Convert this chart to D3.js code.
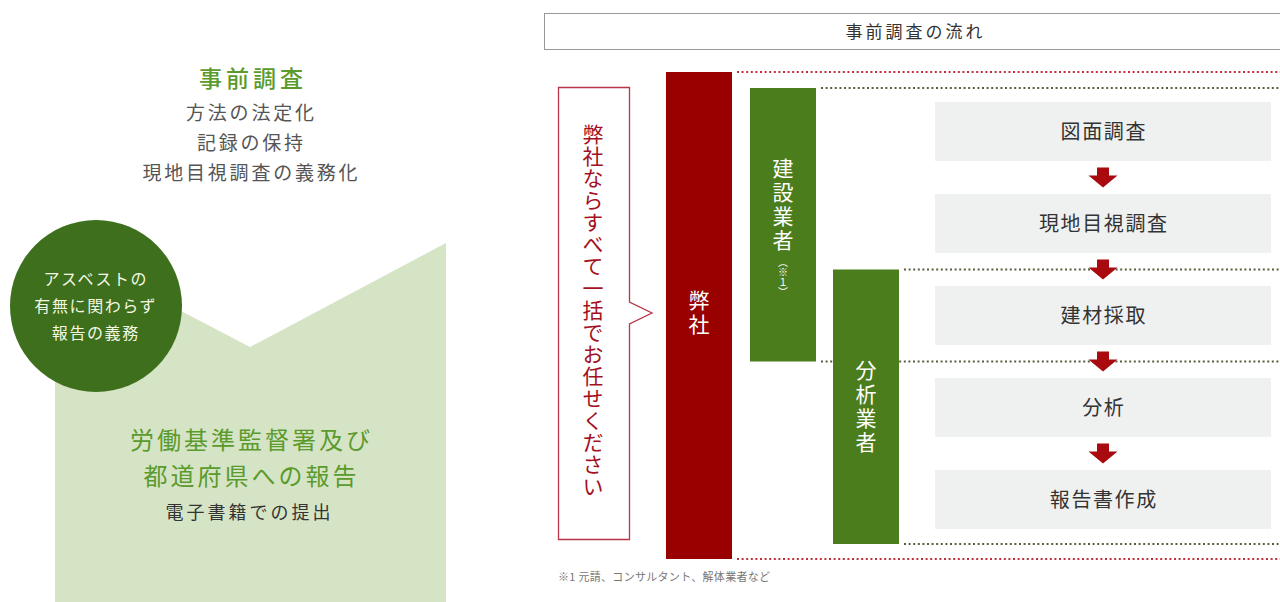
<!DOCTYPE html>
<html>
<head>
<meta charset="utf-8">
<script src="https://cdn.jsdelivr.net/npm/d3@7"></script>
<style>
  html, body { margin: 0; padding: 0; background: #fff; }
  svg { display: block; font-family: "Noto Sans CJK JP", "Noto Sans", sans-serif; }
  .vert { writing-mode: vertical-rl; text-orientation: mixed; }
</style>
</head>
<body>
<div id="chart"></div>
<script>
// left panel texts
const leftTitle = "事前調査"
const leftItems = ["方法の法定化", "記録の保持", "現地目視調査の義務化"]
const circleLines = ["アスベストの", "有無に関わらず", "報告の義務"]
const reportLines = ["労働基準監督署及び", "都道府県への報告"]
const reportSub = "電子書籍での提出"

// right panel: flow
const flowTitle = "事前調査の流れ"
const steps = ["図面調査", "現地目視調査", "建材採取", "分析", "報告書作成"]
const bubbleText = "弊社ならすべて一括でお任せください"
// actors: which steps each one covers (first / last index)
const actors = [
  { name: "弊社", first: 0, last: 4, kind: "main" },
  { name: "建設業者", note: "（※１）", first: 0, last: 2, kind: "sub" },
  { name: "分析業者", first: 2, last: 4, kind: "sub" }
]
const footnote = "※1 元請、コンサルタント、解体業者など"

const W = 1280, H = 602
const svg = d3.select("#chart").append("svg").attr("width", W).attr("height", H)

const green = "#5b9a2c", darkGreen = "#3e6f1c", paleGreen = "#d6e4c6"
const red = "#990000", barGreen = "#4b7d1d"

// centred text with letter spacing (shift by half the trailing space)
function centred(sel, cx, ls) {
  return sel.attr("x", cx + ls / 2).attr("text-anchor", "middle").attr("letter-spacing", ls)
}

// ---------- left panel ----------
const left = svg.append("g")
left.append("path")
  .attr("d", "M55,245 L250,347 L446,243 L446,610 L55,610 Z")
  .attr("fill", paleGreen)

centred(left.append("text"), 251, 4).attr("y", 87)
  .attr("font-size", 23).attr("fill", green).attr("font-weight", 500).text(leftTitle)

centred(left.selectAll(".item").data(leftItems).join("text").attr("class", "item"), 250, 2.8)
  .attr("y", (d, i) => 120 + i * 30)
  .attr("font-size", 19).attr("fill", "#555")
  .text(d => d)

left.append("circle").attr("cx", 96).attr("cy", 306).attr("r", 86).attr("fill", darkGreen)
centred(left.selectAll(".circ").data(circleLines).join("text").attr("class", "circ"), 95, 1.6)
  .attr("y", (d, i) => 285 + i * 27)
  .attr("font-size", 16).attr("fill", "#f4f8e4")
  .text(d => d)

centred(left.selectAll(".rep").data(reportLines).join("text").attr("class", "rep"), 250, 3)
  .attr("y", (d, i) => 449 + i * 36)
  .attr("font-size", 24).attr("fill", green)
  .text(d => d)
centred(left.append("text"), 248, 3).attr("y", 519)
  .attr("font-size", 18).attr("fill", "#333").text(reportSub)

// ---------- right panel ----------
const right = svg.append("g")
right.append("rect").attr("x", 544.5).attr("y", 13.5).attr("width", 760).attr("height", 36)
  .attr("fill", "#fff").attr("stroke", "#999")
centred(right.append("text"), 914, 3).attr("y", 38)
  .attr("font-size", 17).attr("fill", "#333").text(flowTitle)

const y = d3.scaleBand().domain(steps).range([102, 529]).paddingInner(33 / 92).paddingOuter(0)
const gap = y.step() - y.bandwidth()
const boxX0 = 935, boxX1 = 1271

// actor columns
const x = d3.scaleOrdinal().domain(actors.map(d => d.name)).range([666, 750, 833])
const barW = 66

function actorTop(a) {
  if (a.kind === "main") return y(steps[a.first]) - 30
  return a.first === 0 ? y(steps[a.first]) - 14 : y(steps[a.first]) - gap / 2
}
function actorBottom(a) {
  const b = y(steps[a.last]) + y.bandwidth()
  if (a.kind === "main") return b + 30
  return a.last === steps.length - 1 ? b + 15 : b + gap / 2
}

// dotted guides
const guides = []
actors.forEach(a => {
  const x1 = x(a.name) + barW + 5
  guides.push({ y: actorTop(a), x1, kind: a.kind })
  guides.push({ y: actorBottom(a), x1, kind: a.kind })
})
right.selectAll(".guide").data(guides).join("line")
  .attr("class", "guide")
  .attr("x1", d => d.x1).attr("x2", 1280)
  .attr("y1", d => d.y).attr("y2", d => d.y)
  .attr("stroke", d => d.kind === "main" ? "#c0303a" : "#56603e")
  .attr("stroke-width", 2).attr("stroke-dasharray", "2,2.6")

// step boxes
right.selectAll(".step").data(steps).join("rect")
  .attr("class", "step")
  .attr("x", boxX0).attr("y", d => y(d))
  .attr("width", boxX1 - boxX0).attr("height", y.bandwidth())
  .attr("fill", "#eff1f1")
centred(right.selectAll(".stepLabel").data(steps).join("text").attr("class", "stepLabel"), (boxX0 + boxX1) / 2, 1.6)
  .attr("y", d => y(d) + y.bandwidth() / 2 + 7)
  .attr("font-size", 20).attr("fill", "#333")
  .text(d => d)

// arrows
const ax = (boxX0 + boxX1) / 2
right.selectAll(".arrow").data(steps.slice(1)).join("path")
  .attr("class", "arrow")
  .attr("transform", d => `translate(${ax},${y(d) - gap / 2})`)
  .attr("d", "M-6,-10 L6,-10 L6,-2 L14.5,-2 L0,10 L-14.5,-2 L-6,-2 Z")
  .attr("fill", "#a80a10")

// actor bars
right.selectAll(".actor").data(actors).join("rect")
  .attr("class", "actor")
  .attr("x", d => x(d.name)).attr("y", d => actorTop(d))
  .attr("width", barW).attr("height", d => actorBottom(d) - actorTop(d))
  .attr("fill", d => d.kind === "main" ? red : barGreen)

// vertical labels
const labelStart = { "弊社": 290, "建設業者": 158, "分析業者": 360 }
actors.forEach(a => {
  const cx = x(a.name) + barW / 2
  right.append("text").attr("class", "vert")
    .attr("x", cx).attr("y", labelStart[a.name])
    .attr("text-anchor", "start").attr("letter-spacing", 3)
    .attr("font-size", 21).attr("fill", "#fff")
    .text(a.name)
  if (a.note) {
    right.append("text").attr("class", "vert")
      .attr("x", cx).attr("y", labelStart[a.name] + Array.from(a.name).length * 24 + 3)
      .attr("text-anchor", "start").attr("font-size", 10).attr("fill", "#fff")
      .text(a.note)
  }
})

// speech bubble
right.append("path")
  .attr("d", "M558.5,87.5 L629.5,87.5 L629.5,302 L652,313 L629.5,324 L629.5,539.5 L558.5,539.5 Z")
  .attr("fill", "#fff").attr("stroke", "#b8344a").attr("stroke-width", 1.3)
right.append("text").attr("class", "vert")
  .attr("x", 593).attr("y", 124)
  .attr("text-anchor", "start").attr("letter-spacing", 1)
  .attr("font-size", 21).attr("fill", "#a3101e")
  .text(bubbleText)

right.append("text").attr("x", 558).attr("y", 581).attr("letter-spacing", 0.3)
  .attr("font-size", 11).attr("fill", "#777").text(footnote)
</script>
</body>
</html>
